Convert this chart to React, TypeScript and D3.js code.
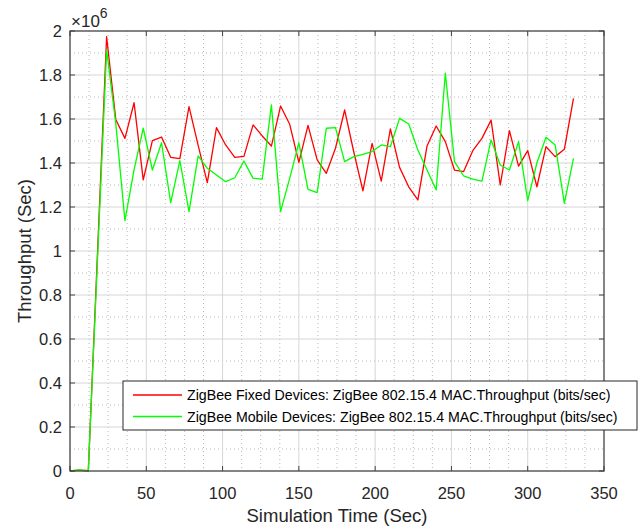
import { useEffect, useRef } from "react";
import * as d3 from "d3";

// simulation time (sec)
const times = [
  0, 6, 12, 24, 30, 36, 42, 48, 54, 60, 66, 72, 78, 84, 90, 96, 102, 108, 114,
  120, 126, 132, 138, 144, 150, 156, 162, 168, 174, 180, 186, 192, 198, 204,
  210, 216, 222, 228, 234, 240, 246, 252, 258, 264, 270, 276, 282, 288, 294,
  300, 306, 312, 318, 324, 330,
];

// throughput x 10^6 bits/sec
const fixedDevices = [
  0, 0.004, 0, 1.974, 1.598, 1.512, 1.674, 1.323, 1.502, 1.518, 1.426, 1.42,
  1.656, 1.48, 1.311, 1.561, 1.482, 1.426, 1.43, 1.573, 1.523, 1.477, 1.659,
  1.576, 1.403, 1.571, 1.414, 1.353, 1.467, 1.641, 1.45, 1.273, 1.489, 1.318,
  1.555, 1.38, 1.292, 1.232, 1.477, 1.568, 1.497, 1.368, 1.361, 1.456, 1.512,
  1.595, 1.3, 1.547, 1.386, 1.456, 1.292, 1.474, 1.429, 1.462, 1.694,
];

const mobileDevices = [
  0, 0.005, 0.003, 1.914, 1.58, 1.138, 1.37, 1.558, 1.368, 1.492, 1.22, 1.411,
  1.179, 1.432, 1.376, 1.345, 1.315, 1.333, 1.409, 1.33, 1.327, 1.664, 1.179,
  1.33, 1.492, 1.28, 1.265, 1.558, 1.561, 1.406, 1.429, 1.439, 1.452, 1.482,
  1.474, 1.603, 1.577, 1.459, 1.368, 1.277, 1.808, 1.406, 1.341, 1.327, 1.318,
  1.505, 1.391, 1.368, 1.497, 1.229, 1.4, 1.517, 1.482, 1.217, 1.421,
];

const xTicks = [0, 50, 100, 150, 200, 250, 300, 350];
const yTicks = [0, 0.2, 0.4, 0.6, 0.8, 1, 1.2, 1.4, 1.6, 1.8, 2];
const xMinor = [12.5, 25, 37.5, 62.5, 75, 87.5, 112.5, 125, 137.5, 162.5, 175, 187.5, 212.5, 225, 237.5, 262.5, 275, 287.5, 312.5, 325, 337.5];
const yMinor = [0.1, 0.3, 0.5, 0.7, 0.9, 1.1, 1.3, 1.5, 1.7, 1.9];

const series = [
  { name: "ZigBee Fixed Devices: ZigBee 802.15.4 MAC.Throughput (bits/sec)", values: fixedDevices, color: "#ff0000" },
  { name: "ZigBee Mobile Devices: ZigBee 802.15.4 MAC.Throughput (bits/sec)", values: mobileDevices, color: "#00ff00" },
];

const FONT = "'Liberation Sans', Arial, sans-serif";

const App = () => {
  const svgRef = useRef(null);

  useEffect(() => {
    const W = 640;
    const H = 527;
    const M = { left: 70, right: 604, top: 31, bottom: 471 };

    const x = d3.scaleLinear().domain([0, 350]).range([M.left, M.right]);
    const y = d3.scaleLinear().domain([0, 2]).range([M.bottom, M.top]);

    const svg = d3.select(svgRef.current).attr("width", W).attr("height", H);
    svg.selectAll("*").remove();

    svg.append("rect").attr("width", W).attr("height", H).attr("fill", "#fff");

    const g = svg.append("g");

    // minor grid (dotted)
    g.selectAll(".xminor")
      .data(xMinor)
      .enter()
      .append("line")
      .attr("x1", (d) => x(d))
      .attr("x2", (d) => x(d))
      .attr("y1", M.top)
      .attr("y2", M.bottom)
      .attr("stroke", "#b8b8b8")
      .attr("stroke-dasharray", "1,3");

    g.selectAll(".yminor")
      .data(yMinor)
      .enter()
      .append("line")
      .attr("x1", M.left)
      .attr("x2", M.right)
      .attr("y1", (d) => y(d))
      .attr("y2", (d) => y(d))
      .attr("stroke", "#b8b8b8")
      .attr("stroke-dasharray", "1,3");

    // major grid
    g.selectAll(".xgrid")
      .data(xTicks)
      .enter()
      .append("line")
      .attr("x1", (d) => x(d))
      .attr("x2", (d) => x(d))
      .attr("y1", M.top)
      .attr("y2", M.bottom)
      .attr("stroke", "#d6d6d6");

    g.selectAll(".ygrid")
      .data(yTicks)
      .enter()
      .append("line")
      .attr("x1", M.left)
      .attr("x2", M.right)
      .attr("y1", (d) => y(d))
      .attr("y2", (d) => y(d))
      .attr("stroke", "#d6d6d6");

    // data lines
    const line = d3
      .line()
      .x((d, i) => x(times[i]))
      .y((d) => y(d));

    series.forEach((s) => {
      g.append("path")
        .datum(s.values)
        .attr("d", line)
        .attr("fill", "none")
        .attr("stroke", s.color)
        .attr("stroke-width", 1.3)
        .attr("stroke-linejoin", "round");
    });

    // axes box with inward ticks
    const axisColor = "#404040";
    const tl = 5;
    g.selectAll(".xtick")
      .data(xTicks)
      .enter()
      .append("path")
      .attr("d", (d) => `M${x(d)},${M.bottom}v${-tl}M${x(d)},${M.top}v${tl}`)
      .attr("stroke", axisColor);

    g.selectAll(".ytick")
      .data(yTicks)
      .enter()
      .append("path")
      .attr("d", (d) => `M${M.left},${y(d)}h${tl}M${M.right},${y(d)}h${-tl}`)
      .attr("stroke", axisColor);

    g.append("rect")
      .attr("x", M.left)
      .attr("y", M.top)
      .attr("width", M.right - M.left)
      .attr("height", M.bottom - M.top)
      .attr("fill", "none")
      .attr("stroke", axisColor)
      .attr("stroke-width", 1.2);

    // tick labels
    g.selectAll(".xlabel")
      .data(xTicks)
      .enter()
      .append("text")
      .attr("x", (d) => x(d))
      .attr("y", 499)
      .attr("text-anchor", "middle")
      .attr("font-family", FONT)
      .attr("font-size", 16.5)
      .attr("fill", "#262626")
      .text((d) => d);

    g.selectAll(".ylabel")
      .data(yTicks)
      .enter()
      .append("text")
      .attr("x", 62)
      .attr("y", (d) => y(d) + 6)
      .attr("text-anchor", "end")
      .attr("font-family", FONT)
      .attr("font-size", 16.5)
      .attr("fill", "#262626")
      .text((d) => String(+d.toFixed(1)));

    // exponent
    const exp = g
      .append("text")
      .attr("x", 71)
      .attr("y", 27)
      .attr("font-family", FONT)
      .attr("font-size", 17)
      .attr("fill", "#262626");
    exp.append("tspan").text("\u00d710");
    exp.append("tspan").attr("dy", -9).attr("font-size", 14).text("6");

    // axis titles
    g.append("text")
      .attr("x", (M.left + M.right) / 2)
      .attr("y", 522)
      .attr("text-anchor", "middle")
      .attr("font-family", FONT)
      .attr("font-size", 18.5)
      .attr("fill", "#262626")
      .text("Simulation Time (Sec)");

    g.append("text")
      .attr("transform", `translate(31,${(M.top + M.bottom) / 2}) rotate(-90)`)
      .attr("text-anchor", "middle")
      .attr("font-family", FONT)
      .attr("font-size", 18.5)
      .attr("fill", "#262626")
      .text("Throughput (Sec)");

    // legend
    const lg = g.append("g").attr("transform", "translate(123,381)");
    lg.append("rect")
      .attr("width", 514)
      .attr("height", 49)
      .attr("fill", "#fff")
      .attr("stroke", "#262626");

    series.forEach((s, i) => {
      const ly = 14 + i * 21.5;
      lg.append("line")
        .attr("x1", 10)
        .attr("x2", 59)
        .attr("y1", ly)
        .attr("y2", ly)
        .attr("stroke", s.color)
        .attr("stroke-width", 1.3);
      lg.append("text")
        .attr("x", 64)
        .attr("y", ly + 5)
        .attr("font-family", FONT)
        .attr("font-size", 14.2)
        .attr("fill", "#000")
        .text(s.name);
    });
  }, []);

  return (
    <svg
      ref={svgRef}
      style={{ position: "absolute", left: 0, top: 0, display: "block" }}
    />
  );
};

export default App;
